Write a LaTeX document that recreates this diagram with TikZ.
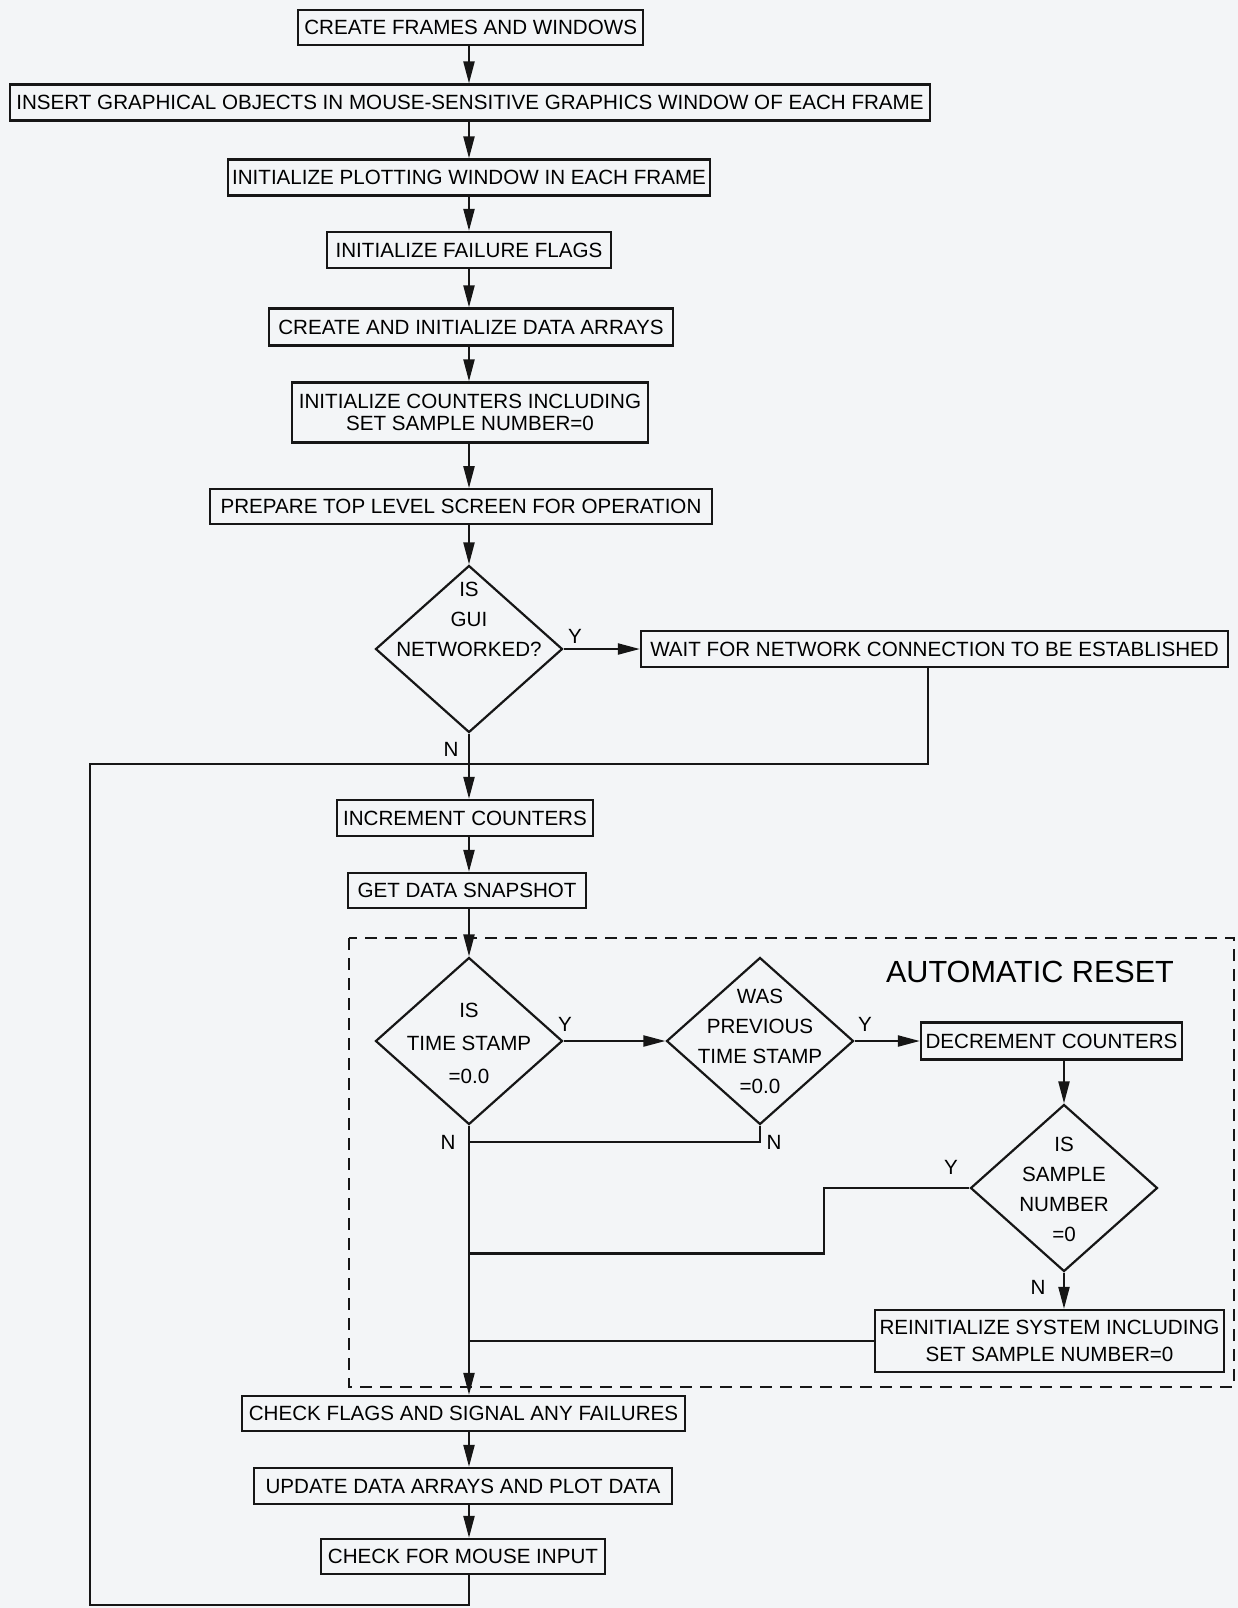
\documentclass[tikz,border=0pt]{standalone}
\usepackage{fontspec}
\setmainfont{Liberation Sans}
\usetikzlibrary{arrows.meta,shapes.geometric}
\definecolor{paper}{RGB}{243,245,247}
\definecolor{ink}{RGB}{22,22,22}
\begin{document}
\begin{tikzpicture}[x=0.5pt,y=-0.5pt,
  box/.style={draw=ink, line width=1.15pt, inner sep=0pt, align=center, font=\fontsize{10.3}{10.75}\selectfont},
  dia/.style={draw=ink, line width=1.1pt, shape=diamond, inner sep=0pt, minimum width=93.5pt, minimum height=83.5pt},
  dtext/.style={align=center, inner sep=0pt},
  arr/.style={-{Triangle[length=11pt,width=5.5pt]}, line width=1.1pt, draw=ink},
  ln/.style={line width=1.1pt, draw=ink},
  lbl/.style={font=\fontsize{10.3}{12}\selectfont, inner sep=0pt},
  dashbox/.style={draw=ink, line width=1.1pt, dash pattern=on 6pt off 4pt}]
\fill[paper] (0,0) rectangle (1238,1608);
\useasboundingbox (0,0) rectangle (1238,1608);
\coordinate (ax) at (469,0);

% main boxes
\node[box, minimum width=172.5pt, minimum height=17.5pt] (b1) at (470.7,27.7) {CREATE FRAMES AND WINDOWS};
\node[box, minimum width=460pt, minimum height=18pt] (b2) at (470,102.6) {INSERT GRAPHICAL OBJECTS IN MOUSE-SENSITIVE GRAPHICS WINDOW OF EACH FRAME};
\node[box, minimum width=241pt, minimum height=18pt] (b3) at (469,177.5) {INITIALIZE PLOTTING WINDOW IN EACH FRAME};
\node[box, minimum width=142pt, minimum height=18pt] (b4) at (469,250) {INITIALIZE FAILURE FLAGS};
\node[box, minimum width=202pt, minimum height=18.5pt] (b5) at (471,327) {CREATE AND INITIALIZE DATA ARRAYS};
\node[box, minimum width=178pt, minimum height=30pt] (b6) at (470,412.5) {INITIALIZE COUNTERS INCLUDING\\SET SAMPLE NUMBER=0};
\node[box, minimum width=251pt, minimum height=17.5pt] (b7) at (461,506.8) {PREPARE TOP LEVEL SCREEN FOR OPERATION};

% decision: networked
\node[dia] (d1) at (469,649) {};
\node[dtext, font=\fontsize{10.3}{15}\selectfont] (d1t) at (469,619) {IS\\GUI\\NETWORKED?};
\node[box, minimum width=293.5pt, minimum height=18pt] (wait) at (934.5,649) {WAIT FOR NETWORK CONNECTION TO BE ESTABLISHED};
\node[lbl] (y1) at (575,636) {Y};
\node[lbl] (n1) at (451,749) {N};

\node[box, minimum width=128pt, minimum height=18pt] (inc) at (465,818) {INCREMENT COUNTERS};
\node[box, minimum width=119pt, minimum height=17.5pt] (gd) at (467,890.5) {GET DATA SNAPSHOT};

% automatic reset region
\draw[dashbox] (349,938) rectangle (1234,1387);
\node[font=\fontsize{15.3}{18}\selectfont, inner sep=0pt] (ar) at (1030,972) {AUTOMATIC RESET};

\node[dia] (d2) at (469,1041) {};
\node[dtext, font=\fontsize{10.3}{16.5}\selectfont] (d2t) at (469,1043) {IS\\TIME STAMP\\=0.0};
\node[dia] (d3) at (760,1041) {};
\node[dtext, font=\fontsize{10.3}{15}\selectfont] (d3t) at (760,1041) {WAS\\PREVIOUS\\TIME STAMP\\=0.0};
\node[box, minimum width=130.5pt, minimum height=18.5pt] (dec) at (1051.5,1041) {DECREMENT COUNTERS};
\node[dia] (d4) at (1064,1188) {};
\node[dtext, font=\fontsize{10.3}{15}\selectfont] (d4t) at (1064,1189) {IS\\SAMPLE\\NUMBER\\=0};
\node[box, minimum width=174.5pt, minimum height=31pt, font=\fontsize{10.3}{13.85}\selectfont] (re) at (1049.5,1341) {REINITIALIZE SYSTEM INCLUDING\\SET SAMPLE NUMBER=0};

\node[lbl] (y2) at (565,1024) {Y};
\node[lbl] (y3) at (865,1024) {Y};
\node[lbl] (y4) at (951,1167) {Y};
\node[lbl] (n2) at (448,1142) {N};
\node[lbl] (n3) at (774,1142) {N};
\node[lbl] (n4) at (1038,1287) {N};

% lower boxes
\node[box, minimum width=221.5pt, minimum height=17.5pt] (cf) at (463.5,1413.5) {CHECK FLAGS AND SIGNAL ANY FAILURES};
\node[box, minimum width=209pt, minimum height=18pt] (up) at (463,1486) {UPDATE DATA ARRAYS AND PLOT DATA};
\node[box, minimum width=142pt, minimum height=17.5pt] (cm) at (463,1556.5) {CHECK FOR MOUSE INPUT};

% helper coordinates
\coordinate (j1) at (469,764);
\coordinate (w1) at (928,764);
\coordinate (c1) at (824,1253.5);
\coordinate (c2) at (760,1142);
\coordinate (c3) at (469,1605);
\coordinate (c4) at (90,1605);
\coordinate (c5) at (90,764);

% connectors
\draw[arr] (b1.south -| ax) -- (b2.north -| ax);
\draw[arr] (b2.south -| ax) -- (b3.north -| ax);
\draw[arr] (b3.south -| ax) -- (b4.north -| ax);
\draw[arr] (b4.south -| ax) -- (b5.north -| ax);
\draw[arr] (b5.south -| ax) -- (b6.north -| ax);
\draw[arr] (b6.south -| ax) -- (b7.north -| ax);
\draw[arr] (b7.south -| ax) -- (d1.north);
\draw[arr] (d1.east) -- (wait.west);
\draw[arr] (d1.south) -- (inc.north -| ax);
\draw[ln] (wait.south -| w1) -- (w1) -- (j1);
\draw[arr] (inc.south -| ax) -- (gd.north -| ax);
\draw[arr] (gd.south -| ax) -- (d2.north);
\draw[arr] (d2.east) -- (d3.west);
\draw[arr] (d3.east) -- (dec.west);
\draw[arr] (dec.south -| d4) -- (d4.north);
\draw[arr] (d4.south) -- (re.north -| d4);
\draw[ln] (d4.west) -| (c1) -- (c1 -| ax);
\draw[ln] (d3.south) -- (c2) -- (c2 -| ax);
\draw[ln] (re.west) -- (re.west -| ax);
\draw[arr] (d2.south) -- (cf.north -| ax);
\draw[arr] (cf.south -| ax) -- (up.north -| ax);
\draw[arr] (up.south -| ax) -- (cm.north -| ax);
\draw[ln] (cm.south -| ax) -- (c3) -- (c4) -- (c5) -- (j1);
\end{tikzpicture}
\end{document}
